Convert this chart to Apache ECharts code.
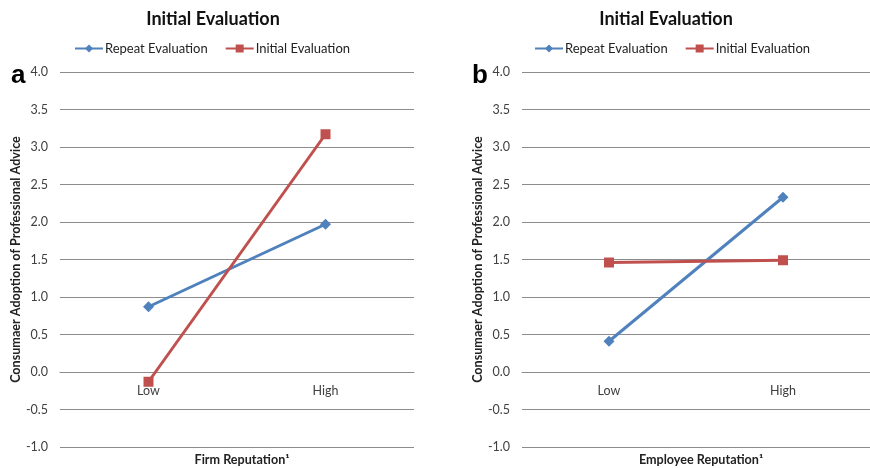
<!DOCTYPE html>
<html><head><meta charset="utf-8">
<script src="https://cdn.jsdelivr.net/npm/echarts@6/dist/echarts.min.js"></script>
<style>html,body{margin:0;padding:0;background:#fff}#c{width:870px;height:468px}</style>
</head><body><div id="c"></div>
<script>
const categories = ['Low', 'High'];
const seriesNames = ['Repeat Evaluation', 'Initial Evaluation'];
const firmRepeat = [0.87, 1.97];
const firmInitial = [-0.13, 3.17];
const empRepeat = [0.41, 2.33];
const empInitial = [1.46, 1.49];
const yTicks = [-1.0, -0.5, 0.0, 0.5, 1.0, 1.5, 2.0, 2.5, 3.0, 3.5, 4.0];
const chartTitle = 'Initial Evaluation';
const yName = 'Consumaer Adoption of Professional Advice';
const xNames = ['Firm Reputation¹', 'Employee Reputation¹'];
const panelLetters = ['a', 'b'];

const FONT = 'Lato';
const BLUE = '#4F81BD', RED = '#C0504D';
const GRID_H = 375;
const grids = [
  {left: 60, width: 354, top: 72, height: GRID_H, outerBoundsMode: 'none', containLabel: false},
  {left: 522, width: 348, top: 72, height: GRID_H, outerBoundsMode: 'none', containLabel: false}
];
const yMin = yTicks[0], yMax = yTicks[yTicks.length - 1];
// place the category axis where the value axis crosses zero
const zeroOffset = -GRID_H * (0 - yMin) / (yMax - yMin);

function yAxis(i) {
  return {
    type: 'value', gridIndex: i, min: yMin, max: yMax, interval: 0.5,
    axisLine: {show: false}, axisTick: {show: false},
    axisLabel: {color: '#404040', fontFamily: FONT, fontSize: 12.5, margin: 12, formatter: v => v.toFixed(1)},
    splitLine: {lineStyle: {color: '#8c8c8c', width: 1}},
    name: yName, nameLocation: 'middle', nameRotate: 90, nameGap: 38,
    nameTextStyle: {fontFamily: FONT, fontWeight: 'bold', fontSize: 12.6, color: '#222'}
  };
}
function xAxis(i) {
  return {
    type: 'category', gridIndex: i, data: categories, boundaryGap: true, position: 'bottom',
    offset: zeroOffset,
    axisLine: {show: true, onZero: false, lineStyle: {color: '#8c8c8c'}}, axisTick: {show: false},
    axisLabel: {color: '#404040', fontFamily: FONT, fontSize: 12.5, margin: 12}
  };
}
function line(name, data, i, color, symbol, size) {
  return {
    name, type: 'line', xAxisIndex: i, yAxisIndex: i, data,
    symbol, symbolSize: size, lineStyle: {color, width: 3}, itemStyle: {color},
    animation: false
  };
}
const titleStyle = {fontFamily: FONT, fontWeight: 'bold', fontSize: 18, color: '#111'};
const xNameStyle = {fontFamily: FONT, fontWeight: 'bold', fontSize: 12.6, color: '#222'};
const chart = echarts.init(document.getElementById('c'));
chart.setOption({
  animation: false,
  title: [
    {text: chartTitle, left: 208, top: 5, textAlign: 'center', textStyle: titleStyle},
    {text: chartTitle, left: 661, top: 5, textAlign: 'center', textStyle: titleStyle},
    {text: panelLetters[0], left: 6, top: 58, textStyle: {fontFamily: 'Liberation Sans', fontWeight: 'bold', fontSize: 26, color: '#000'}},
    {text: panelLetters[1], left: 467, top: 58, textStyle: {fontFamily: 'Liberation Sans', fontWeight: 'bold', fontSize: 26, color: '#000'}},
    {text: xNames[0], left: 237, top: 448, textAlign: 'center', textStyle: xNameStyle},
    {text: xNames[1], left: 696, top: 448, textAlign: 'center', textStyle: xNameStyle}
  ],
  legend: [
    {left: 69, top: 37, itemWidth: 28, itemHeight: 10, itemGap: 17, data: seriesNames,
     textStyle: {fontFamily: FONT, fontSize: 13, color: '#222', padding: [0, 0, 0, -3]}},
    {left: 529, top: 37, itemWidth: 28, itemHeight: 10, itemGap: 17, data: seriesNames,
     textStyle: {fontFamily: FONT, fontSize: 13, color: '#222', padding: [0, 0, 0, -3]}}
  ],
  grid: grids,
  xAxis: [xAxis(0), xAxis(1)],
  yAxis: [yAxis(0), yAxis(1)],
  series: [
    line(seriesNames[0], firmRepeat, 0, BLUE, 'diamond', 11),
    line(seriesNames[1], firmInitial, 0, RED, 'rect', 10),
    line(seriesNames[0], empRepeat, 1, BLUE, 'diamond', 11),
    line(seriesNames[1], empInitial, 1, RED, 'rect', 10)
  ]
});
</script></body></html>
